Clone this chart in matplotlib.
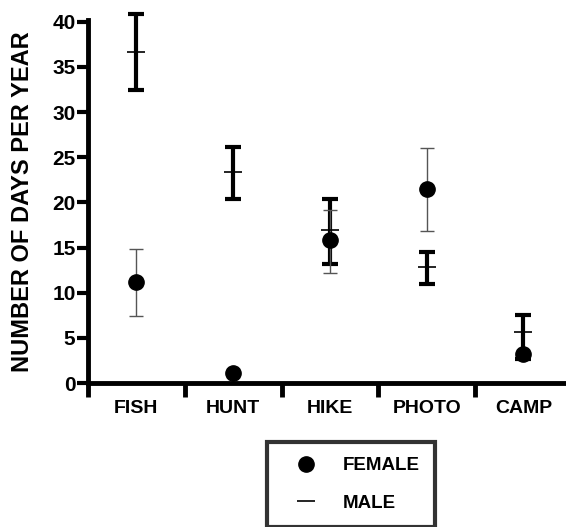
import matplotlib.pyplot as plt
import numpy as np

categories = ['FISH', 'HUNT', 'HIKE', 'PHOTO', 'CAMP']

female_mean = [11.2, 1.1, 15.8, 21.5, 3.2]
female_low = [7.4, 1.1, 12.2, 16.8, 3.2]
female_high = [14.8, 1.1, 19.2, 26.0, 3.2]

male_mean = [36.7, 23.4, 16.9, 12.8, 5.6]
male_low = [32.4, 20.4, 13.2, 11.0, 2.7]
male_high = [40.9, 26.1, 20.4, 14.5, 7.5]

plt.rcParams['font.family'] = ['Liberation Sans', 'DejaVu Sans']

fig = plt.figure(figsize=(5.66, 5.27), dpi=100)
ax = fig.add_axes([0.1555, 0.2732, 0.8445, 0.6888])

x = np.arange(len(categories)) + 0.5

f_err = [np.array(female_mean) - np.array(female_low), np.array(female_high) - np.array(female_mean)]
m_err = [np.array(male_mean) - np.array(male_low), np.array(male_high) - np.array(male_mean)]

eb = ax.errorbar(x, male_mean, yerr=m_err, fmt='none', ecolor='black', elinewidth=3,
                 capsize=6, capthick=3, zorder=2)
for art in eb.lines[1] + eb.lines[2]:
    art.set_clip_on(False)
ax.plot(x, male_mean, linestyle='none', marker='_', markersize=13, markeredgewidth=1.2,
        color='black', label='MALE', zorder=4)
ax.errorbar(x, female_mean, yerr=f_err, fmt='none', ecolor='#555555', elinewidth=1,
            capsize=5, capthick=1, zorder=3)
ax.plot(x, female_mean, linestyle='none', marker='o', markersize=11, color='black',
        label='FEMALE', zorder=5, clip_on=False)

ax.set_xlim(0, 4.94)
ax.set_ylim(0, 40.2)

for s in ['top', 'right']:
    ax.spines[s].set_visible(False)
for s in ['left', 'bottom']:
    ax.spines[s].set_linewidth(3.5)

ax.set_yticks([0, 5, 10, 15, 20, 25, 30, 35, 40])
ax.tick_params(axis='y', direction='out', length=8, width=3, labelsize=15, pad=1)
for lbl in ax.get_yticklabels():
    lbl.set_fontweight('bold')

ax.set_xticks([0, 1, 2, 3, 4])
ax.set_xticklabels([])
ax.set_xticks(x, minor=True)
ax.set_xticklabels(categories, minor=True, fontweight='bold', fontsize=14)
ax.tick_params(axis='x', which='major', direction='out', length=10, width=3.5)
ax.tick_params(axis='x', which='minor', length=0, pad=12)

ax.set_ylabel('NUMBER OF DAYS PER YEAR', fontsize=17, fontweight='bold')
ax.yaxis.set_label_coords(-0.113, 0.5)

handles, labels = ax.get_legend_handles_labels()
order = [labels.index('FEMALE'), labels.index('MALE')]
leg = fig.legend([handles[i] for i in order], [labels[i] for i in order],
                 loc='upper left', bbox_to_anchor=(0.472, 0.161), fancybox=False,
                 frameon=True, edgecolor='black', handlelength=2.5, borderpad=0.8,
                 labelspacing=1.1, handletextpad=0.75, borderaxespad=0,
                 prop={'weight': 'bold', 'size': 13.5})
leg.get_frame().set_linewidth(3)

fig.savefig('out.png', dpi=100)
